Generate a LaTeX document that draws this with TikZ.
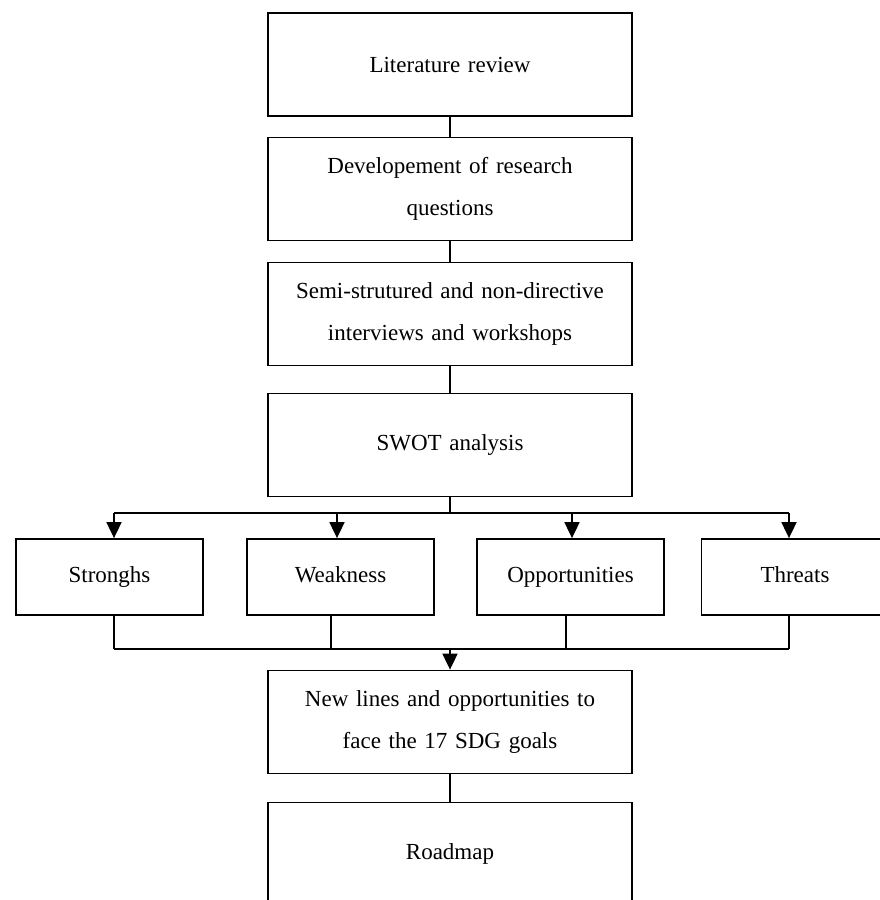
\documentclass[tikz,border=0pt]{standalone}
\usepackage{fontspec}
\setmainfont{Liberation Serif}
\usetikzlibrary{arrows.meta}
\tikzset{
  box/.style={draw, line width=1.8pt, align=center, inner sep=0pt,
    font=\fontsize{23}{42}\selectfont},
  bigbox/.style={box, minimum width=364pt, minimum height=103pt, text width=350pt},
  smallbox/.style={box, minimum width=187pt, minimum height=76pt,
    text height=16pt, text depth=5pt},
  line/.style={line width=1.8pt},
  arr/.style={line width=1.8pt, -{Triangle[length=16pt,width=15pt]}}
}
\begin{document}
\begin{tikzpicture}[x=1pt,y=-1pt]
\useasboundingbox (0,0) rectangle (880,900);
\clip (0,0) rectangle (880,900);
\node[bigbox] (lit) at (450,64.5) {Literature review};
\node[bigbox] (dev) at (450,189) {Developement of research\\questions};
\node[bigbox] (semi) at (450,314) {Semi-strutured and non-directive\\interviews and workshops};
\node[bigbox] (swot) at (450,445) {SWOT analysis};
\node[smallbox] (s) at (109.5,577) {Stronghs};
\node[smallbox] (w) at (340.5,577) {Weakness};
\node[smallbox] (o) at (570.5,577) {Opportunities};
\node[smallbox] (t) at (795,577) {Threats};
\node[bigbox] (new) at (450,722) {New lines and opportunities to\\face the 17 SDG goals};
\node[bigbox] (road) at (450,854) {Roadmap};

\draw[line] (lit) -- (dev);
\draw[line] (dev) -- (semi);
\draw[line] (semi) -- (swot);
\draw[line] (new) -- (road);

\coordinate (split) at (450,513);
\coordinate (d1) at (114,513);
\coordinate (d2) at (337,513);
\coordinate (d3) at (572,513);
\coordinate (d4) at (789,513);
\draw[line] (swot) -- (split);
\draw[line] (d1) -- (d4);
\draw[arr] (d1) -- (d1 |- s.north);
\draw[arr] (d2) -- (d2 |- w.north);
\draw[arr] (d3) -- (d3 |- o.north);
\draw[arr] (d4) -- (d4 |- t.north);

\coordinate (c1) at (114,649);
\coordinate (c2) at (331,649);
\coordinate (c3) at (566,649);
\coordinate (c4) at (789,649);
\coordinate (join) at (450,649);
\draw[line] (c1 |- s.south) -- (c1);
\draw[line] (c2 |- w.south) -- (c2);
\draw[line] (c3 |- o.south) -- (c3);
\draw[line] (c4 |- t.south) -- (c4);
\draw[line] (c1) -- (c4);
\draw[arr] (join) -- (new);
\end{tikzpicture}
\end{document}
